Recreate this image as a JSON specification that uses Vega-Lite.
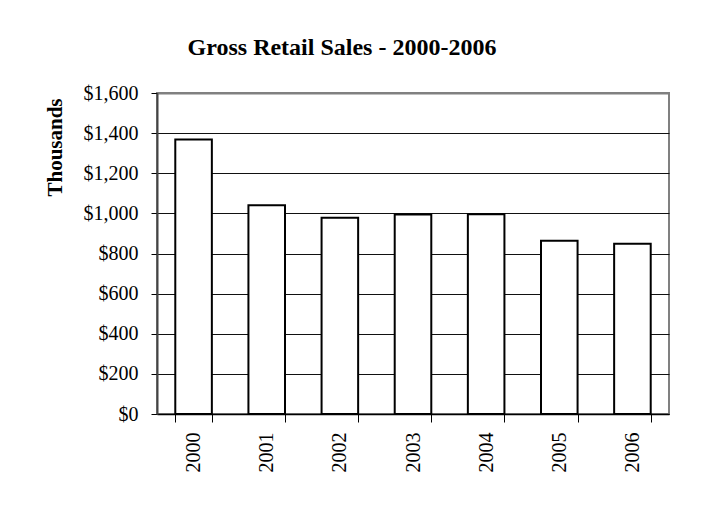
{
  "$schema": "https://vega.github.io/schema/vega-lite/v6.json",
  "autosize": {"type": "none"},
  "width": 512,
  "height": 321,
  "padding": {"left": 157, "top": 93, "right": 35, "bottom": 92},
  "background": "white",
  "title": {
    "text": "Gross Retail Sales - 2000-2006",
    "font": "Liberation Serif",
    "fontSize": 24,
    "fontWeight": "bold",
    "color": "black",
    "anchor": "middle",
    "frame": "group",
    "dx": -71,
    "baseline": "alphabetic",
    "offset": 4
  },
  "data": {
    "values": [
      {"year": "2000", "sales": 1368},
      {"year": "2001", "sales": 1040},
      {"year": "2002", "sales": 978},
      {"year": "2003", "sales": 994},
      {"year": "2004", "sales": 996},
      {"year": "2005", "sales": 863},
      {"year": "2006", "sales": 848}
    ]
  },
  "mark": {"type": "bar", "fill": "white", "stroke": "black", "strokeWidth": 2},
  "encoding": {
    "x": {
      "field": "year",
      "type": "nominal",
      "sort": null,
      "scale": {"paddingInner": 0.5, "paddingOuter": 0.25},
      "axis": {
        "title": null,
        "labelAngle": -90,
        "labelFont": "Liberation Serif",
        "labelFontSize": 20,
        "labelColor": "black",
        "labelPadding": 10,
        "tickSize": 8,
        "tickBand": "extent",
        "tickColor": "black",
        "domainColor": "black",
        "domainWidth": 1.5,
        "grid": false
      }
    },
    "y": {
      "field": "sales",
      "type": "quantitative",
      "scale": {"domain": [0, 1600], "nice": false},
      "axis": {
        "title": "Thousands",
        "titleFont": "Liberation Serif",
        "titleFontSize": 21,
        "titleFontWeight": "bold",
        "titleColor": "black",
        "titleAngle": -90,
        "titleAlign": "center",
        "titleBaseline": "middle",
        "titleX": -102,
        "titleY": 54,
        "values": [0, 200, 400, 600, 800, 1000, 1200, 1400, 1600],
        "format": "$,.0f",
        "labelFont": "Liberation Serif",
        "labelFontSize": 20,
        "labelColor": "black",
        "labelPadding": 13,
        "tickSize": 6,
        "tickColor": "black",
        "domainColor": "#444444",
        "domainWidth": 2,
        "grid": true,
        "gridColor": {"condition": {"test": "datum.value == 1600", "value": "#808080"}, "value": "#111111"},
        "gridWidth": {"condition": {"test": "datum.value == 1600", "value": 2}, "value": 1},
        "gridOpacity": 1
      }
    }
  },
  "config": {
    "view": {"stroke": "#808080", "strokeWidth": 2}
  }
}
